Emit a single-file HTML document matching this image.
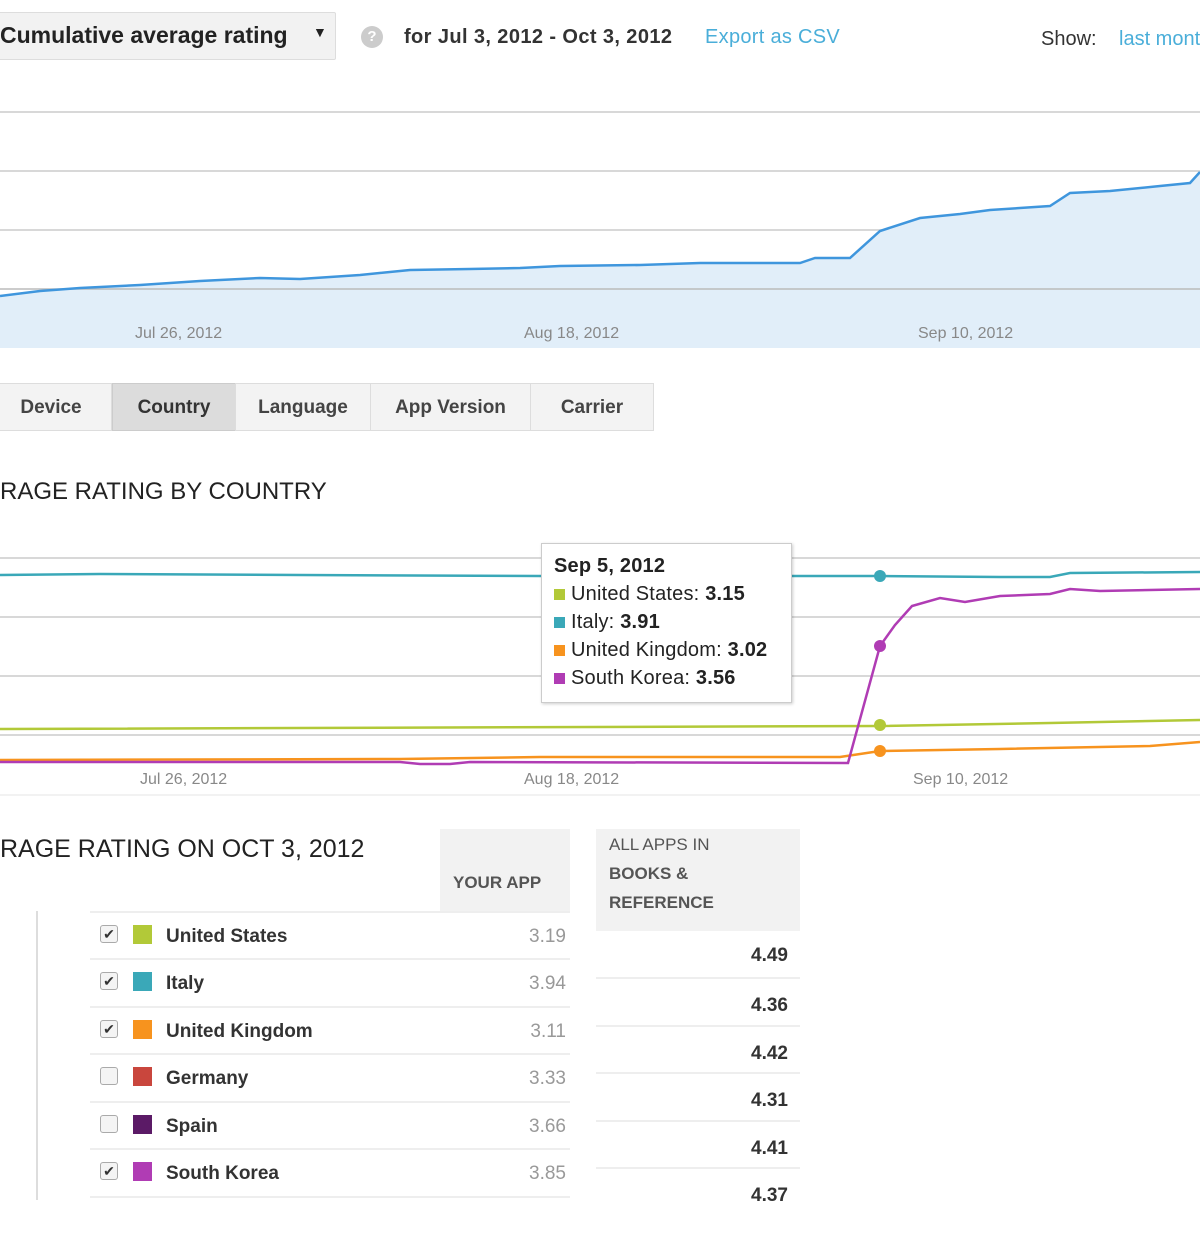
<!DOCTYPE html>
<html><head><style>
body{margin:0;width:1200px;height:1200px;overflow:hidden;background:#fff;font-family:"Liberation Sans",sans-serif;position:relative}
.a{position:absolute;white-space:nowrap}
.tab{position:absolute;top:383px;height:48px;border:1px solid #ddd;background:#f3f3f3;font-weight:bold;font-size:19px;color:#444;text-align:center;line-height:48px;box-sizing:border-box}
.row{position:absolute;left:90px;width:480px;height:47px;border-top:2px solid #eee}
.row .cb{position:absolute;left:10px;top:12px;width:16px;height:16px;border:1px solid #aaa;border-radius:3px;background:#f4f4f4;font-size:14px;line-height:16px;text-align:center;color:#333}
.row .sw{position:absolute;left:43px;top:12px;width:19px;height:19px}
.row .n{position:absolute;left:76px;top:13px;font-size:19px;font-weight:bold;color:#333}
.row .v{position:absolute;right:4px;top:13px;font-size:19px;color:#999}
.r2{position:absolute;left:596px;width:204px;height:47px;border-top:2px solid #eee}
.r2 span{position:absolute;right:12px;top:16px;font-size:19px;font-weight:bold;color:#333}
</style></head><body>
<div class="a" style="left:-10px;top:12px;width:344px;height:46px;border:1px solid #ddd;background:#f2f2f2;border-radius:2px"></div>
<div class="a" style="left:0;top:22px;font-size:23px;font-weight:bold;color:#222">Cumulative average rating</div>
<div class="a" style="left:313px;top:24px;font-size:14px;color:#222">▼</div>
<div class="a" style="left:361px;top:26px;width:22px;height:22px;border-radius:50%;background:#ccc;color:#fff;font-size:15px;font-weight:bold;text-align:center;line-height:22px">?</div>
<div class="a" style="left:404px;top:26px;font-size:20px;font-weight:bold;color:#333;letter-spacing:0.4px">for Jul 3, 2012 - Oct 3, 2012</div>
<div class="a" style="left:705px;top:26px;font-size:20px;color:#4aaed9;letter-spacing:0.3px">Export as CSV</div>
<div class="a" style="left:1041px;top:28px;font-size:20px;color:#333">Show:</div>
<div class="a" style="left:1119px;top:28px;font-size:20px;color:#4aaed9">last month</div>

<svg class="a" style="left:0;top:0" width="1200" height="800">
<g stroke="#ccc" stroke-width="1.5">
<line x1="0" y1="112" x2="1200" y2="112"/><line x1="0" y1="171" x2="1200" y2="171"/><line x1="0" y1="230" x2="1200" y2="230"/>
</g>
<polygon fill="#e1eef9" points="0,296 40,291 80,288 140,285 200,281 260,278 300,279 360,275 410,270 470,269 520,268 560,266 640,265 700,263 800,263 815,258 850,258 880,231 920,218 960,214 990,210 1050,206 1070,193 1110,191 1160,186 1190,183 1200,172 1200,348 0,348"/>
<line x1="0" y1="289" x2="1200" y2="289" stroke="#bbb" stroke-width="1.5"/>
<polyline fill="none" stroke="#3f96dd" stroke-width="2.5" points="0,296 40,291 80,288 140,285 200,281 260,278 300,279 360,275 410,270 470,269 520,268 560,266 640,265 700,263 800,263 815,258 850,258 880,231 920,218 960,214 990,210 1050,206 1070,193 1110,191 1160,186 1190,183 1200,172"/>
<g font-family="Liberation Sans" font-size="16" fill="#888">
<text x="135" y="338">Jul 26, 2012</text><text x="524" y="338">Aug 18, 2012</text><text x="918" y="338">Sep 10, 2012</text>
<text x="140" y="784">Jul 26, 2012</text><text x="524" y="784">Aug 18, 2012</text><text x="913" y="784">Sep 10, 2012</text>
</g>
<g stroke="#ccc" stroke-width="1.5">
<line x1="0" y1="558" x2="1200" y2="558"/><line x1="0" y1="617" x2="1200" y2="617"/><line x1="0" y1="676" x2="1200" y2="676"/><line x1="0" y1="735" x2="1200" y2="735"/>
</g>
<line x1="0" y1="795" x2="1200" y2="795" stroke="#eee" stroke-width="1.5"/>
<g fill="none" stroke-width="2.5">
<polyline stroke="#3aa8b8" points="0,575 100,574 300,575 540,576 880,576 1000,577 1050,577 1070,573 1200,572"/>
<polyline stroke="#b2c938" points="0,729 880,726 1050,723 1200,720"/>
<polyline stroke="#f7931e" points="0,760 400,759 540,757 840,757 880,751 1000,749 1150,746 1200,742"/>
<polyline stroke="#b03cb4" points="0,762 400,762 420,764 450,764 470,762 848,763 880,646 895,625 912,606 940,598 965,602 1000,596 1050,594 1070,589 1100,591 1200,589"/>
</g>
<circle cx="880" cy="576" r="6" fill="#3aa8b8"/><circle cx="880" cy="725" r="6" fill="#b2c938"/><circle cx="880" cy="751" r="6" fill="#f7931e"/><circle cx="880" cy="646" r="6" fill="#b03cb4"/>
</svg>

<div class="tab" style="left:-10px;width:122px">Device</div>
<div class="tab" style="left:112px;width:124px;background:#dcdcdc;border-color:#ccc;color:#333">Country</div>
<div class="tab" style="left:235px;width:136px">Language</div>
<div class="tab" style="left:370px;width:161px">App Version</div>
<div class="tab" style="left:530px;width:124px">Carrier</div>

<div class="a" style="left:0;top:478px;font-size:24px;color:#222">RAGE RATING BY COUNTRY</div>

<div class="a" style="left:541px;top:543px;width:249px;height:158px;background:#fff;border:1px solid #ccc;box-shadow:1px 1px 3px rgba(0,0,0,.2);font-size:20px;color:#222;letter-spacing:0.2px">
<div class="a" style="left:12px;top:11px;font-weight:bold">Sep 5, 2012</div>
<div class="a" style="left:12px;top:39px"><span style="display:inline-block;width:11px;height:11px;background:#b2c938;margin-right:6px"></span>United States: <b>3.15</b></div>
<div class="a" style="left:12px;top:67px"><span style="display:inline-block;width:11px;height:11px;background:#3aa8b8;margin-right:6px"></span>Italy: <b>3.91</b></div>
<div class="a" style="left:12px;top:95px"><span style="display:inline-block;width:11px;height:11px;background:#f7931e;margin-right:6px"></span>United Kingdom: <b>3.02</b></div>
<div class="a" style="left:12px;top:123px"><span style="display:inline-block;width:11px;height:11px;background:#b03cb4;margin-right:6px"></span>South Korea: <b>3.56</b></div>
</div>

<div class="a" style="left:0;top:835px;font-size:25px;color:#222">RAGE RATING ON OCT 3, 2012</div>
<div class="a" style="left:440px;top:829px;width:130px;height:82px;background:#f2f2f2"></div>
<div class="a" style="left:453px;top:873px;font-size:17px;font-weight:bold;color:#555">YOUR APP</div>
<div class="a" style="left:596px;top:829px;width:204px;height:102px;background:#f2f2f2;font-size:17px;color:#555;line-height:29px;padding:1px 0 0 13px;box-sizing:border-box">ALL APPS IN<br><b>BOOKS &amp;<br>REFERENCE</b></div>
<div class="a" style="left:36px;top:911px;width:2px;height:289px;background:#ddd"></div>

<div class="row" style="top:911px"><div class="cb">✔</div><div class="sw" style="background:#b2c938"></div><div class="n">United States</div><div class="v">3.19</div></div>
<div class="row" style="top:958px"><div class="cb">✔</div><div class="sw" style="background:#3aa8b8"></div><div class="n">Italy</div><div class="v">3.94</div></div>
<div class="row" style="top:1006px"><div class="cb">✔</div><div class="sw" style="background:#f7931e"></div><div class="n">United Kingdom</div><div class="v">3.11</div></div>
<div class="row" style="top:1053px"><div class="cb"></div><div class="sw" style="background:#c9463d"></div><div class="n">Germany</div><div class="v">3.33</div></div>
<div class="row" style="top:1101px"><div class="cb"></div><div class="sw" style="background:#5b1a66"></div><div class="n">Spain</div><div class="v">3.66</div></div>
<div class="row" style="top:1148px"><div class="cb">✔</div><div class="sw" style="background:#b03cb4"></div><div class="n">South Korea</div><div class="v">3.85</div></div>
<div class="row" style="top:1196px"></div>

<div class="r2" style="top:929px;border-top:none"><span>4.49</span></div>
<div class="r2" style="top:977px"><span>4.36</span></div>
<div class="r2" style="top:1025px"><span>4.42</span></div>
<div class="r2" style="top:1072px"><span>4.31</span></div>
<div class="r2" style="top:1120px"><span>4.41</span></div>
<div class="r2" style="top:1167px"><span>4.37</span></div>
</body></html>
